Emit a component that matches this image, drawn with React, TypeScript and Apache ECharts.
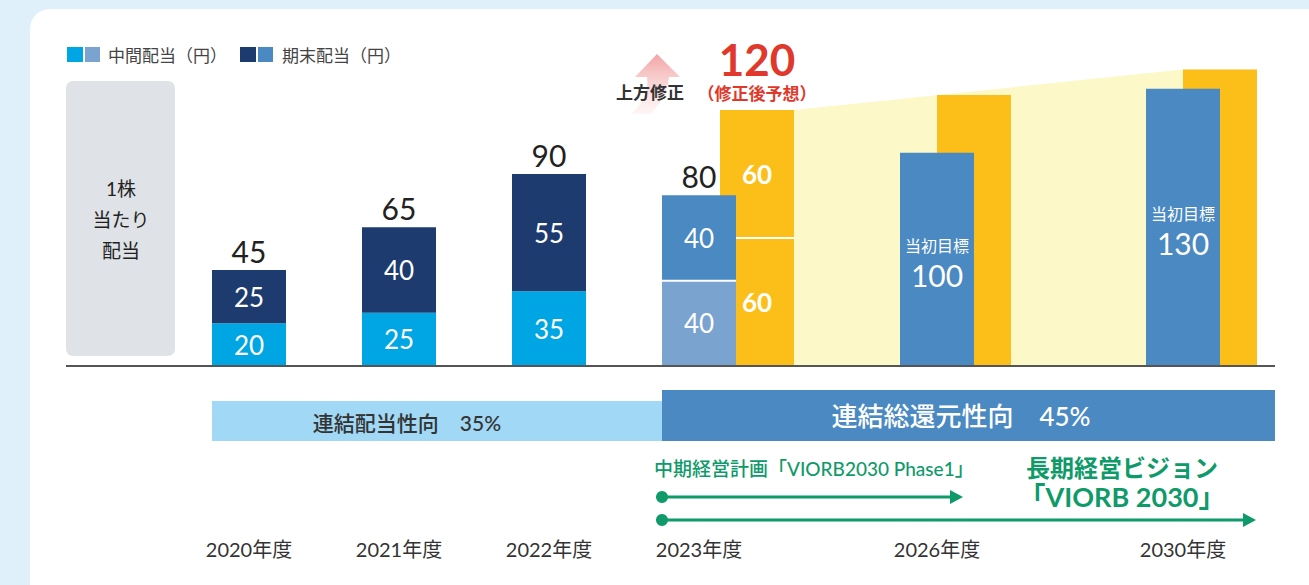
import React, { useEffect, useRef } from 'react';
import * as echarts from 'echarts';

// ---- data ----
const pastYears = ['2020年度', '2021年度', '2022年度', '2023年度'];
const futureYears = ['2026年度', '2030年度'];
const interimDividend = [20, 25, 35, 40];
const yearEndDividend = [25, 40, 55, 40];
const revisedInterim = ['-', '-', '-', 60];
const revisedYearEnd = ['-', '-', '-', 60];
const revisedTotal = 120;
const initialTarget = [100, 130];
const upliftTarget = [127, 139];
const legendLabels = ['中間配当（円）', '期末配当（円）'];
const payoutLabel = '連結配当性向　35%';
const totalReturnLabel = '連結総還元性向　45%';
const midPlanLabel = '中期経営計画「VIORB2030 Phase1」';
const visionLabel1 = '長期経営ビジョン';
const visionLabel2 = '「VIORB 2030」';

// ---- styles ----
const FONT = "Lato, 'Noto Sans CJK JP', 'Noto Sans', sans-serif";
const C_CYAN = '#00a6e4';
const C_LBLUE = '#7ba3d0';
const C_NAVY = '#1d3b6f';
const C_BLUE = '#4a89c2';
const C_ORANGE = '#fcbf19';
const C_YELLOW = '#fdf8c8';
const C_RED = '#e0382b';
const C_GREEN = '#0f9a6a';
const BAR_W = 74;
const HW = BAR_W / 2;

export default function App() {
  const ref = useRef<HTMLDivElement>(null);
  useEffect(() => {
    if (!ref.current) return;
    const chart = echarts.init(ref.current, null, { renderer: 'svg' });
    const totals = interimDividend.map((v, i) => v + yearEndDividend[i]);
    const axisLabel = { margin: 173, fontSize: 20, color: '#333', fontFamily: FONT };
    const innerLabel = { show: true, position: 'inside', color: '#fff', fontSize: 26, fontFamily: FONT };
    const valueY = (gridIndex: number) => ({ type: 'value', gridIndex, min: 0, max: 150, show: false });
    const option: any = {
      animation: false,
      backgroundColor: '#dff0fb',
      grid: [
        { left: 174, width: 600, top: 46, bottom: 219 },   // past years
        { left: 232, width: 600, top: 46, bottom: 219 },   // revised forecast (shifted)
        { left: 814, width: 492, top: 46, bottom: 219 },   // future targets
        { left: 974, width: 246, top: 46, bottom: 219 },   // raised targets (shifted, edge-aligned)
      ],
      xAxis: [
        { type: 'category', gridIndex: 0, data: pastYears, axisLine: { show: false }, axisTick: { show: false }, axisLabel },
        { type: 'category', gridIndex: 1, data: pastYears, show: false },
        { type: 'category', gridIndex: 2, data: futureYears, axisLine: { show: false }, axisTick: { show: false }, axisLabel },
        { type: 'category', gridIndex: 3, data: futureYears, show: false, boundaryGap: false },
      ],
      yAxis: [valueY(0), valueY(1), valueY(2), valueY(3)],
      series: [
        {
          name: '中間配当', type: 'bar', xAxisIndex: 0, yAxisIndex: 0, stack: 'div', barWidth: BAR_W, z: 3,
          data: interimDividend.map((v, i) => ({ value: v, itemStyle: { color: i < 3 ? C_CYAN : C_LBLUE } })),
          label: innerLabel,
        },
        {
          name: '期末配当', type: 'bar', xAxisIndex: 0, yAxisIndex: 0, stack: 'div', barWidth: BAR_W, z: 3,
          data: yearEndDividend.map((v, i) => ({ value: v, itemStyle: { color: i < 3 ? C_NAVY : C_BLUE } })),
          label: innerLabel,
        },
        {
          name: '合計', type: 'bar', xAxisIndex: 0, yAxisIndex: 0, stack: 'div', barWidth: BAR_W, z: 3,
          data: totals.map(() => 0), itemStyle: { color: 'transparent' },
          label: { show: true, position: 'top', distance: 4, fontSize: 30, color: '#222', fontFamily: FONT,
            formatter: (p: any) => String(totals[p.dataIndex]) },
        },
        {
          name: '修正中間', type: 'bar', xAxisIndex: 1, yAxisIndex: 1, stack: 'rev', barWidth: BAR_W, z: 2,
          data: revisedInterim, itemStyle: { color: C_ORANGE },
          label: { ...innerLabel, fontWeight: 'bold' },
        },
        {
          name: '修正期末', type: 'bar', xAxisIndex: 1, yAxisIndex: 1, stack: 'rev', barWidth: BAR_W, z: 2,
          data: revisedYearEnd, itemStyle: { color: C_ORANGE },
          label: { ...innerLabel, fontWeight: 'bold' },
        },
        {
          name: '修正合計', type: 'bar', xAxisIndex: 1, yAxisIndex: 1, stack: 'rev', barWidth: BAR_W, z: 2,
          data: ['-', '-', '-', 0], itemStyle: { color: 'transparent' },
          label: {
            show: true, position: 'top', distance: 6, fontFamily: FONT,
            formatter: () => `{a|${revisedTotal}}\n{b|（修正後予想）}`,
            rich: {
              a: { fontSize: 44, fontWeight: 'bold', color: C_RED, lineHeight: 46, fontFamily: FONT },
              b: { fontSize: 17, fontWeight: 'bold', color: C_RED, lineHeight: 22, fontFamily: FONT },
            },
          },
        },
        {
          name: '当初目標', type: 'bar', xAxisIndex: 2, yAxisIndex: 2, barWidth: BAR_W, z: 3,
          data: initialTarget, itemStyle: { color: C_BLUE },
          label: {
            show: true, position: 'inside', offset: [0, 3], fontFamily: FONT,
            formatter: (p: any) => `{a|当初目標}\n{b|${p.value}}`,
            rich: {
              a: { fontSize: 16, color: '#fff', lineHeight: 26, fontFamily: FONT },
              b: { fontSize: 30, color: '#fff', lineHeight: 34, fontFamily: FONT },
            },
          },
        },
        {
          name: '上方目標', type: 'bar', xAxisIndex: 3, yAxisIndex: 3, barWidth: BAR_W, z: 2, clip: false,
          data: upliftTarget, itemStyle: { color: C_ORANGE },
        },
      ],
    };
    chart.setOption(option);

    const xPast = (c: string) => chart.convertToPixel({ xAxisIndex: 0 } as any, c) as unknown as number;
    const xRev = (c: string) => chart.convertToPixel({ xAxisIndex: 1 } as any, c) as unknown as number;
    const xUp = (c: string) => chart.convertToPixel({ xAxisIndex: 3 } as any, c) as unknown as number;
    const yP = (v: number) => chart.convertToPixel({ yAxisIndex: 0 } as any, v) as unknown as number;

    const y0 = yP(0);
    const x2023 = xPast(pastYears[3]);
    const yellowLeft = xRev(pastYears[3]) + HW;
    const yellowRight = xUp(futureYears[1]) - HW;
    const bandStart = xPast(pastYears[0]) - HW;
    const bandMid = x2023 - HW;
    const lineEnd = 1275;

    echarts.graphic.registerShape('upArrow', echarts.graphic.extendPath(
      'M657,54 L680,77 L669,77 Q667,98 650,114 L631,114 Q650,97 647,77 L635,77 Z', {}));

    const txt = (text: string, x: number, y: number, extra: any = {}) => ({
      type: 'text', x, y, z: 20,
      style: { text, fill: '#333', fontSize: 17, fontFamily: FONT, align: 'center', verticalAlign: 'middle', ...extra },
    });

    const graphic: any[] = [
      { type: 'rect', z: -10, shape: { x: 30, y: 9, width: 1320, height: 620, r: 20 }, style: { fill: '#fff' } },
      { type: 'polygon', z: -5, shape: { points: [[yellowLeft, yP(revisedTotal)], [yellowRight, yP(upliftTarget[1])], [yellowRight, y0], [yellowLeft, y0]] }, style: { fill: C_YELLOW } },
      // gray label box
      { type: 'rect', z: -4, shape: { x: 66, y: 81, width: 109, height: 275, r: 7 }, style: { fill: '#dfe2e6' } },
      txt('1株\n当たり\n配当', 121, 219, { fontSize: 19, lineHeight: 31, fill: '#222' }),
      // legend
      { type: 'rect', z: 20, shape: { x: 67, y: 47, width: 16, height: 15 }, style: { fill: C_CYAN } },
      { type: 'rect', z: 20, shape: { x: 85, y: 47, width: 15, height: 15 }, style: { fill: C_LBLUE } },
      txt(legendLabels[0], 108, 55, { align: 'left', fill: '#444' }),
      { type: 'rect', z: 20, shape: { x: 240, y: 47, width: 16, height: 15 }, style: { fill: C_NAVY } },
      { type: 'rect', z: 20, shape: { x: 258, y: 47, width: 15, height: 15 }, style: { fill: C_BLUE } },
      txt(legendLabels[1], 282, 55, { align: 'left', fill: '#444' }),
      // baseline
      { type: 'line', z: 15, shape: { x1: 66, y1: y0, x2: lineEnd, y2: y0 }, style: { stroke: '#555', lineWidth: 2 } },
      // separators
      { type: 'line', z: 15, shape: { x1: x2023 - HW, y1: yP(interimDividend[3]), x2: x2023 + HW, y2: yP(interimDividend[3]) }, style: { stroke: '#fff', lineWidth: 2 } },
      { type: 'line', z: 15, shape: { x1: x2023 + HW, y1: yP(60), x2: yellowLeft, y2: yP(60) }, style: { stroke: '#fff', lineWidth: 2 } },
      // revision arrow
      { type: 'upArrow', z: 8, x: 0, y: 0, style: { fill: new echarts.graphic.LinearGradient(0, 0, 0, 1, [
        { offset: 0, color: '#f2a3a3' }, { offset: 1, color: 'rgba(250,215,215,0.25)' }]) } },
      txt('上方修正', 650, 92, { fontWeight: 'bold', fill: '#333' }),
      // bands
      { type: 'rect', z: 10, shape: { x: bandStart, y: 401, width: bandMid - bandStart, height: 40 }, style: { fill: '#a0d8f5' } },
      txt(payoutLabel, 407, 422, { fontSize: 21, fontWeight: 500 }),
      { type: 'rect', z: 10, shape: { x: bandMid, y: 390, width: lineEnd - bandMid, height: 51 }, style: { fill: C_BLUE } },
      txt(totalReturnLabel, 961, 416, { fontSize: 26, fontWeight: 500, fill: '#fff' }),
      // timeline
      txt(midPlanLabel, 654, 468, { align: 'left', fill: C_GREEN, fontSize: 19, fontWeight: 500 }),
      { type: 'circle', z: 20, shape: { cx: 662, cy: 497, r: 6 }, style: { fill: C_GREEN } },
      { type: 'line', z: 20, shape: { x1: 662, y1: 497, x2: 952, y2: 497 }, style: { stroke: C_GREEN, lineWidth: 3 } },
      { type: 'polygon', z: 20, shape: { points: [[950, 490], [963, 497], [950, 504]] }, style: { fill: C_GREEN } },
      { type: 'circle', z: 20, shape: { cx: 662, cy: 520, r: 6 }, style: { fill: C_GREEN } },
      { type: 'line', z: 20, shape: { x1: 662, y1: 520, x2: 1245, y2: 520 }, style: { stroke: C_GREEN, lineWidth: 3 } },
      { type: 'polygon', z: 20, shape: { points: [[1243, 513], [1256, 520], [1243, 527]] }, style: { fill: C_GREEN } },
      txt(visionLabel1, 1122, 467, { fontSize: 24, fontWeight: 'bold', fill: C_GREEN }),
      txt(visionLabel2, 1122, 496, { fontSize: 27, fontWeight: 'bold', fill: C_GREEN }),
    ];
    chart.setOption({ graphic });

    return () => chart.dispose();
  }, []);
  return <div ref={ref} style={{ position: 'fixed', left: 0, top: 0, width: 1309, height: 585 }} />;
}
